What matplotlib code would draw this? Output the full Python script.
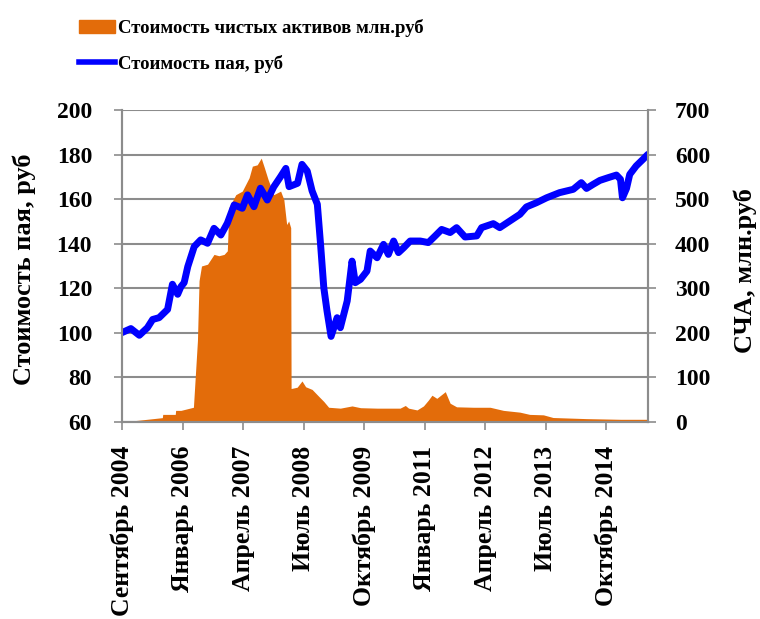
import matplotlib.pyplot as plt
from matplotlib.patches import Patch
from matplotlib.lines import Line2D

# months counted from September 2004
price_months = [0.0, 2.2, 4.3, 6.3, 7.6, 9.2, 11.3, 12.5, 13.8, 14.6, 15.4, 16.3,
                17.9, 19.5, 21.2, 22.8, 24.5, 26.1, 27.8, 29.8, 31.1, 32.7, 34.3,
                36.0, 37.6, 39.3, 40.6, 41.4, 43.5, 44.6, 45.9, 47.1, 48.4, 49.2,
                50.0, 50.8, 51.8, 53.3, 54.1, 55.8, 57.0, 57.8, 59.1, 60.7, 61.5,
                63.2, 64.8, 66.0, 67.3, 68.5, 69.8, 71.4, 73.9, 75.9, 77.6, 79.2,
                81.3, 82.9, 85.0, 87.9, 89.1, 92.0, 93.6, 96.1, 98.6, 100.2, 102.7,
                105.2, 108.4, 111.8, 113.8, 115.1, 116.7, 118.4, 120.4, 122.5,
                123.5, 124.0, 125.0, 125.8, 127.4, 129.1, 130.3]
price_values = [100.1, 101.9, 98.9, 102.3, 106.0, 106.8, 110.5, 121.8, 117.3, 120.7,
                122.5, 129.7, 138.7, 141.7, 140.2, 146.9, 143.9, 149.2, 157.4, 155.9,
                161.9, 156.6, 164.9, 159.6, 165.5, 170.1, 173.8, 165.6, 167.1, 175.6,
                172.6, 163.7, 157.7, 139.7, 120.3, 109.8, 98.4, 106.8, 102.3, 114.3,
                132.2, 122.5, 124.0, 127.7, 136.7, 133.7, 139.7, 135.2, 141.2, 136.0,
                138.2, 141.2, 141.2, 140.5, 143.5, 146.4, 145.0, 147.2, 143.0, 143.5,
                147.2, 149.0, 147.2, 150.2, 153.2, 156.5, 158.4, 160.6, 162.9, 164.4,
                167.4, 164.8, 166.6, 168.4, 169.6, 170.8, 168.9, 160.6, 164.8, 171.1,
                174.9, 177.9, 180.1]

nav_months = [0.0, 3.9, 10.0, 10.1, 13.2, 13.3, 14.6, 17.7, 18.0, 18.7, 19.1, 19.7,
              21.2, 22.8, 24.0, 25.3, 26.1, 26.5, 28.2, 29.8, 31.5, 32.3, 33.5,
              34.5, 35.3, 36.2, 37.6, 39.3, 40.1, 40.8, 41.3, 41.8, 41.9, 43.4,
              44.6, 45.5, 47.1, 48.8, 50.0, 51.2, 54.1, 57.0, 59.1, 63.2, 68.9,
              70.2, 71.0, 73.1, 74.7, 75.9, 76.8, 78.0, 80.1, 81.3, 82.9, 87.1,
              91.2, 94.5, 98.6, 101.0, 104.4, 106.8, 115.1, 123.5, 130.3]
nav_values = [0, 3.7, 9.7, 17, 17, 26, 26, 33, 78, 183, 317, 350, 354, 376, 373,
              376, 384, 481, 510, 518, 548, 574, 577, 592, 570, 544, 510, 518, 499,
              443, 451, 436, 75, 78, 92, 79, 73, 57, 46, 33, 31, 36, 32, 31, 31, 37,
              31, 27, 36, 49, 60, 53, 68, 42, 34, 33, 33, 26, 22, 17, 16, 10, 7.5,
              6, 6]

tick_months = [0, 15, 30, 45, 60, 75, 90, 105, 120]
tick_labels = ["Сентябрь 2004", "Январь 2006", "Апрель 2007", "Июль 2008",
               "Октябрь 2009", "Январь 2011", "Апрель 2012", "Июль 2013",
               "Октябрь 2014"]

plt.rcParams["font.family"] = ["Liberation Serif", "DejaVu Serif"]
plt.rcParams["font.weight"] = "bold"

fig = plt.figure(figsize=(7.6, 6.19), dpi=100)
ax_nav = fig.add_axes([0.1605, 0.3183, 0.692, 0.504])
ax_price = ax_nav.twinx()

orange = "#E36C0A"
blue = "#0000FF"
grid_col = "#8C8C8C"

ax_nav.fill_between(nav_months, nav_values, 0, color=orange, linewidth=0)
ax_nav.set_ylim(0, 700)
ax_nav.set_yticks(range(0, 701, 100))
ax_nav.yaxis.tick_right()
ax_nav.yaxis.set_label_position("right")
ax_nav.set_ylabel("СЧА, млн.руб", fontsize=19, fontweight="bold")
ax_nav.yaxis.set_label_coords(1.163, 0.484)

ax_price.plot(price_months, price_values, color=blue, linewidth=5,
              solid_capstyle="round", solid_joinstyle="round")
ax_price.set_ylim(60, 200)
ax_price.set_yticks(range(60, 201, 20))
ax_price.yaxis.tick_left()
ax_price.yaxis.set_label_position("left")
ax_price.set_ylabel("Стоимость пая, руб", fontsize=19, fontweight="bold")
ax_price.yaxis.set_label_coords(-0.163, 0.49)

ax_nav.set_xlim(0, 130.3)
ax_nav.set_xticks(tick_months)
ax_nav.set_xticklabels(tick_labels, rotation=90)

for ax in (ax_nav, ax_price):
    ax.tick_params(labelsize=17, color=grid_col, length=6, width=1.2)
    for sp in ax.spines.values():
        sp.set_color(grid_col)
        sp.set_linewidth(1.5)
    ax.spines["top"].set_visible(False)
    for lab in ax.get_xticklabels() + ax.get_yticklabels():
        lab.set_fontweight("bold")

ax_price.tick_params(axis="y", pad=15.5)
ax_nav.tick_params(axis="y", pad=13.5)
ax_nav.tick_params(axis="x", labelsize=18.5, pad=11)
ax_nav.yaxis.grid(True, color=grid_col, linewidth=1.5)
ax_nav.set_axisbelow(True)

handles = [Patch(color=orange), Line2D([], [], color=blue, linewidth=4)]
fig.legend(handles, ["Стоимость чистых активов млн.руб", "Стоимость пая, руб"],
           loc="upper left", bbox_to_anchor=(0.079, 1.0), frameon=False,
           prop={"size": 13.5, "weight": "bold"}, handlelength=1.95,
           handletextpad=0.15, labelspacing=0.95, borderpad=0.5)

fig.savefig("out.png", dpi=100)
